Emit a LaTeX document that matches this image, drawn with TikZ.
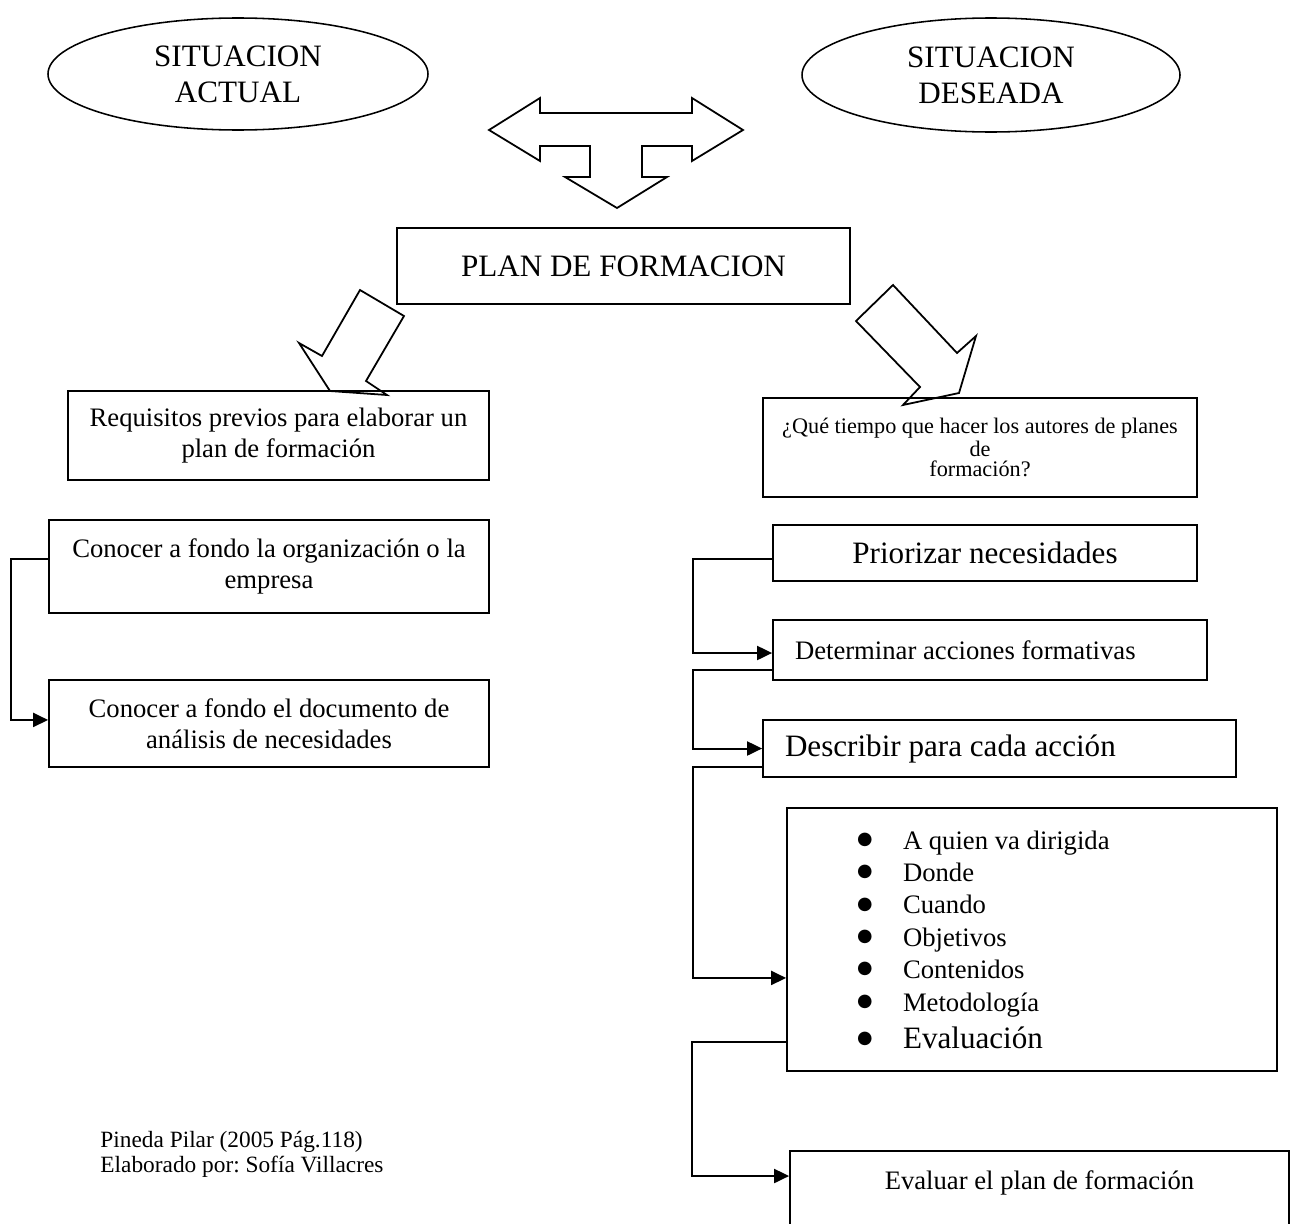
\documentclass[tikz,border=0pt]{standalone}
\usepackage{fontspec}
\setmainfont{Liberation Serif}
\newfontfamily\dejavu{DejaVu Sans}
\usetikzlibrary{arrows.meta,shapes.geometric}
\frenchspacing
\newcommand\blt[1]{\makebox[157.5pt][l]{\makebox[20.7pt][l]{\raisebox{2.2pt}{\dejavu\fontsize{8}{9}\selectfont ●}}#1}}
\begin{document}
\begin{tikzpicture}[x=0.45pt,y=-0.45pt,
  box/.style={draw,line width=0.8pt,inner sep=0pt,align=center,font=\fontsize{12}{14}\selectfont},
  ell/.style={draw,ellipse,line width=0.7pt,inner sep=0pt,align=center,font=\fontsize{14}{16.2}\selectfont},
  blockarrow/.style={draw,line width=0.8pt,line join=miter},
  conn/.style={line width=0.9pt,-{Triangle[length=6.75pt,width=6.3pt]}}]
\useasboundingbox (0,0) rectangle (1299,1223);

% ellipses
\node[ell,minimum width=171pt,minimum height=50.4pt] (actual) at (238,74) {SITUACION\\ACTUAL};
\node[ell,minimum width=170.1pt,minimum height=51.3pt] (deseada) at (991,75) {SITUACION\\DESEADA};

% block arrows
\draw[blockarrow] (489,130) -- (540,98) -- (540,113) -- (692,113) -- (692,98) -- (743,130) -- (692,161) -- (692,146) -- (642,146) -- (642,177) -- (667,177) -- (617,208) -- (565,177) -- (590,177) -- (590,146) -- (540,146) -- (540,161) -- cycle;
\draw[blockarrow] (360,290) -- (404,316) -- (366,381) -- (387,395) -- (330,391) -- (299,343) -- (322,356) -- cycle;
\draw[blockarrow] (893,285) -- (957,353) -- (976,336) -- (959,393) -- (903,405) -- (920,387) -- (856,321) -- cycle;

% boxes
\node[box,minimum width=203.85pt,minimum height=34.2pt,font=\fontsize{14}{16}\selectfont] (plan) at (623.5,266) {PLAN DE FORMACION};

\node[box,minimum width=189.45pt,minimum height=40.05pt] (req) at (278.5,435.5) {Requisitos previos para elaborar un\\plan de formación};
\node[box,minimum width=198pt,minimum height=41.85pt] (org) at (269,566.5) {Conocer a fondo la organización o la\\empresa};
\node[box,minimum width=198pt,minimum height=39.15pt] (doc) at (269,723.5) {Conocer a fondo el documento de\\análisis de necesidades};

\node[box,minimum width=195.3pt,minimum height=44.55pt,font=\fontsize{10}{9}\selectfont] (que) at (980,447.5) {¿Qué tiempo que hacer los autores de planes\\de\\formación?};
\node[box,minimum width=190.8pt,minimum height=25.2pt,font=\fontsize{14}{16}\selectfont] (prio) at (985,553) {Priorizar necesidades};
\node[box,minimum width=195.3pt,minimum height=27pt] (det) at (990,650) {\makebox[175.5pt][l]{Determinar acciones formativas}};
\node[box,minimum width=212.85pt,minimum height=25.65pt,font=\fontsize{14}{16}\selectfont] (desc) at (999.5,748.5) {\makebox[193.05pt][l]{Describir para cada acción}};
\node[box,minimum width=220.5pt,minimum height=118.35pt,align=left,font=\fontsize{12}{14.6}\selectfont] (bul) at (1032,939.5)
  {\blt{A quien va dirigida}\\\blt{Donde}\\\blt{Cuando}\\\blt{Objetivos}\\\blt{Contenidos}\\\blt{Metodología}\\[2pt]\blt{\fontsize{14}{16}\selectfont Evaluación}};
\node[box,minimum width=224.55pt,minimum height=40.5pt] (eval) at (1039.5,1196) {Evaluar el plan de formación\\\mbox{}};

% connectors
\draw[conn] ([yshift=3.4pt]org.west) -- ++(-37,0) |- ([yshift=1.6pt]doc.west);
\draw[conn] ([yshift=-2.7pt]prio.west) -- ++(-79,0) |- ([yshift=-1.35pt]det.west);
\draw[conn] ([yshift=-9pt]det.west) -- ++(-79,0) |- (desc.west);
\draw[conn] ([yshift=-8.3pt]desc.west) -- ++(-69,0) |- ([yshift=-17.3pt]bul.west);
\draw[conn] ([yshift=-46.1pt]bul.west) -- ++(-94,0) |- ([yshift=9pt]eval.west);

% source
\node[anchor=west,align=left,inner sep=0pt,font=\fontsize{10.5}{11.25}\selectfont] (src) at (100,1154.5) {Pineda Pilar (2005 Pág.118)\\Elaborado por: Sofía Villacres};
\end{tikzpicture}
\end{document}
